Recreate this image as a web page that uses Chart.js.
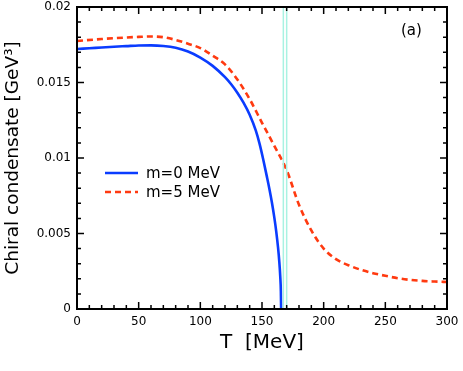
<!DOCTYPE html>
<html>
<head>
<meta charset="utf-8">
<script src="https://cdn.jsdelivr.net/npm/chart.js@4"></script>
<style>
  html, body { margin: 0; padding: 0; background: #fff; }
  canvas { display: block; }
</style>
</head>
<body>
<canvas id="chart" width="463" height="371"></canvas>
<script>
// datos
var tempM0 = [0, 10, 20, 30, 40, 50, 60, 70, 80, 90, 100, 110, 120, 125, 130, 135, 140, 145, 148, 151, 154, 156, 158, 160, 161.5, 163, 164, 164.8, 165.3, 165.5];
var condM0 = [0.01722, 0.01727, 0.01732, 0.01737, 0.01741, 0.01745, 0.01746, 0.01742, 0.01730, 0.01705, 0.01665, 0.01610, 0.01535, 0.01488, 0.01432, 0.01366, 0.01286, 0.01181, 0.01095, 0.00990, 0.00875, 0.00795, 0.00707, 0.00605, 0.00516, 0.00408, 0.00316, 0.00216, 0.00115, 0];

var tempM5 = [0, 20, 40, 50, 60, 70, 80, 90, 100, 110, 120, 130, 140, 150, 160, 170, 180, 190, 200, 210, 220, 230, 240, 250, 260, 270, 280, 290, 300];
var condM5 = [0.01775, 0.01788, 0.01798, 0.01802, 0.01805, 0.01800, 0.01782, 0.01757, 0.01728, 0.01678, 0.01620, 0.01520, 0.01390, 0.01233, 0.01080, 0.00920, 0.00690, 0.00520, 0.00400, 0.00330, 0.00290, 0.00260, 0.00237, 0.00220, 0.00204, 0.00193, 0.00186, 0.00182, 0.00179];

var tcLines = [167.3, 170];
var seriesNames = ['m=0 MeV', 'm=5 MeV'];
var xTicks = [0, 50, 100, 150, 200, 250, 300];
var yTicks = [0, 0.005, 0.01, 0.015, 0.02];

var BLUE = '#0a3cff';
var RED = '#ff3a10';
var CYAN = '#a8f2e2';

function toPoints(xs, ys) {
    return xs.map((x, i) => ({ x: x, y: ys[i] }));
}

var datasets = [];
tcLines.forEach(t => {
    datasets.push({
        data: [{ x: t, y: 0 }, { x: t, y: 0.02 }],
        borderColor: CYAN, borderWidth: 1.5, pointRadius: 0
    });
});
datasets.push({
    label: seriesNames[0], data: toPoints(tempM0, condM0),
    borderColor: BLUE, borderWidth: 2.6, pointRadius: 0, cubicInterpolationMode: 'monotone'
});
datasets.push({
    label: seriesNames[1], data: toPoints(tempM5, condM5),
    borderColor: RED, borderWidth: 2.6, borderDash: [6, 4], pointRadius: 0, cubicInterpolationMode: 'monotone'
});

// marco, marcas de eje, leyenda y etiqueta (a)
var framePlugin = {
    id: 'frame',
    afterDatasetsDraw(chart) {
        const ctx = chart.ctx;
        const a = chart.chartArea;
        const xs = chart.scales.x, ys = chart.scales.y;
        ctx.save();
        ctx.strokeStyle = '#000';
        ctx.lineWidth = 1.5;
        // ticks x (menores cada 10)
        for (let t = 0; t <= 300; t += 10) {
            const px = xs.getPixelForValue(t);
            const len = (t % 50 === 0) ? 7 : 4;
            ctx.beginPath();
            ctx.moveTo(px, a.bottom); ctx.lineTo(px, a.bottom - len);
            ctx.moveTo(px, a.top); ctx.lineTo(px, a.top + len);
            ctx.stroke();
        }
        // ticks y (menores cada 0.001)
        for (let k = 0; k <= 20; k++) {
            const py = ys.getPixelForValue(k * 0.001);
            const len = (k % 5 === 0) ? 7 : 4;
            ctx.beginPath();
            ctx.moveTo(a.left, py); ctx.lineTo(a.left + len, py);
            ctx.moveTo(a.right, py); ctx.lineTo(a.right - len, py);
            ctx.stroke();
        }
        ctx.lineWidth = 2;
        ctx.strokeRect(a.left, a.top, a.right - a.left, a.bottom - a.top);

        // leyenda
        ctx.font = '15px "DejaVu Sans"';
        ctx.textBaseline = 'middle';
        ctx.fillStyle = '#000';
        ctx.lineWidth = 2.6;
        ctx.strokeStyle = BLUE;
        ctx.beginPath(); ctx.moveTo(105, 173); ctx.lineTo(138, 173); ctx.stroke();
        ctx.fillText(seriesNames[0], 146, 174);
        ctx.strokeStyle = RED;
        ctx.setLineDash([6, 4]);
        ctx.beginPath(); ctx.moveTo(105, 192); ctx.lineTo(138, 192); ctx.stroke();
        ctx.setLineDash([]);
        ctx.fillText(seriesNames[1], 146, 193);

        ctx.font = '15px "DejaVu Sans"';
        ctx.fillText('(a)', 401, 31);
        ctx.restore();
    }
};

var ctx = document.getElementById('chart').getContext('2d');
var chart = new Chart(ctx, {
    type: 'line',
    data: { datasets: datasets },
    options: {
        responsive: false,
        animation: false,
        devicePixelRatio: 1,
        layout: { padding: { top: 7, right: 16, left: 0, bottom: 16 } },
        plugins: { legend: { display: false }, tooltip: { enabled: false } },
        scales: {
            x: {
                type: 'linear', min: 0, max: 300,
                afterBuildTicks: s => { s.ticks = xTicks.map(v => ({ value: v })); },
                grid: { display: false, drawTicks: false },
                border: { display: false },
                ticks: { color: '#000', padding: 6, maxRotation: 0, font: { family: 'DejaVu Sans', size: 12 } },
                title: { display: true, text: 'T  [MeV]', color: '#000', padding: { top: 2, bottom: 0 }, font: { family: 'DejaVu Sans', size: 20 } },
                afterFit: s => { s.height = 46; s.paddingLeft = 0; s.paddingRight = 0; }
            },
            y: {
                min: 0, max: 0.02,
                afterBuildTicks: s => { s.ticks = yTicks.map(v => ({ value: v })); },
                grid: { display: false, drawTicks: false },
                border: { display: false },
                ticks: { color: '#000', padding: 6, font: { family: 'DejaVu Sans', size: 12 },
                    callback: v => String(+v.toFixed(3)) },
                title: { display: true, text: 'Chiral condensate [GeV³]', color: '#000', padding: { top: 2, bottom: 0 }, font: { family: 'DejaVu Sans', size: 18.5 } },
                afterFit: s => { s.width = 77; s.paddingTop = 0; s.paddingBottom = 0; }
            }
        }
    },
    plugins: [framePlugin]
});
</script>
</body>
</html>
